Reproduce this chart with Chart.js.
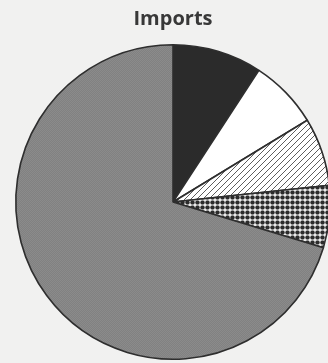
<!DOCTYPE html>
<html>
<head>
<meta charset="utf-8">
<script src="https://cdn.jsdelivr.net/npm/chart.js@4/dist/chart.umd.min.js"></script>
<style>
    html, body { margin: 0; padding: 0; background: #f1f1f0; overflow: hidden; }
    #wrap { position: relative; width: 346px; height: 363px; }
</style>
</head>
<body>
<div id="wrap"><canvas id="importsChart" width="346" height="363"></canvas></div>
<script>
// 수입 구성 (퍼센트)
const categories = ['Category A', 'Category B', 'Category C', 'Category D', 'Other'];
const shares = [9.2, 7.1, 7.0, 6.4, 70.3];

// 흑백 인쇄용 채움 패턴
function makeTile(size, draw) {
    const c = document.createElement('canvas');
    c.width = size; c.height = size;
    const g = c.getContext('2d');
    draw(g, size);
    return g.createPattern(c, 'repeat');
}

const hatch = makeTile(6, (g, s) => {
    g.fillStyle = '#ffffff';
    g.fillRect(0, 0, s, s);
    g.strokeStyle = '#5e5e5e';
    g.lineWidth = 1;
    g.beginPath();
    g.moveTo(0, s); g.lineTo(s, 0);
    g.moveTo(-s, s); g.lineTo(s, -s);
    g.moveTo(0, 2 * s); g.lineTo(2 * s, 0);
    g.stroke();
});

// 흰 격자 사이 검은 점
const dots = makeTile(5, (g, s) => {
    g.fillStyle = '#f4f4f4';
    g.fillRect(0, 0, s, s);
    g.fillStyle = '#2c2c2c';
    g.beginPath();
    g.arc(s / 2, s / 2, 2.1, 0, Math.PI * 2);
    g.fill();
    g.fillRect(0.8, 0.8, 3.4, 3.4);
});

const grain = makeTile(2, (g, s) => {
    g.fillStyle = '#818181';
    g.fillRect(0, 0, s, s);
    g.fillStyle = '#8b8b8b';
    g.fillRect(0, 0, 1, 1);
    g.fillRect(1, 1, 1, 1);
});

const fills = ['#2b2b2b', '#ffffff', hatch, dots, grain];

new Chart(document.getElementById('importsChart').getContext('2d'), {
    type: 'pie',
    data: {
        labels: categories,
        datasets: [{
            data: shares,
            backgroundColor: fills,
            borderColor: '#2e2e2e',
            borderWidth: 1.6,
        }],
    },
    options: {
        responsive: false,
        animation: false,
        layout: { padding: { top: 0, bottom: 3, left: 0, right: 0 } },
        plugins: {
            legend: { display: false },
            tooltip: { enabled: false },
            title: {
                display: true,
                text: 'Imports',
                color: '#383838',
                font: { family: '"Open Sans", sans-serif', size: 20, weight: 'bold' },
                padding: { top: 7, bottom: 13 },
            },
        },
    },
});
</script>
</body>
</html>
